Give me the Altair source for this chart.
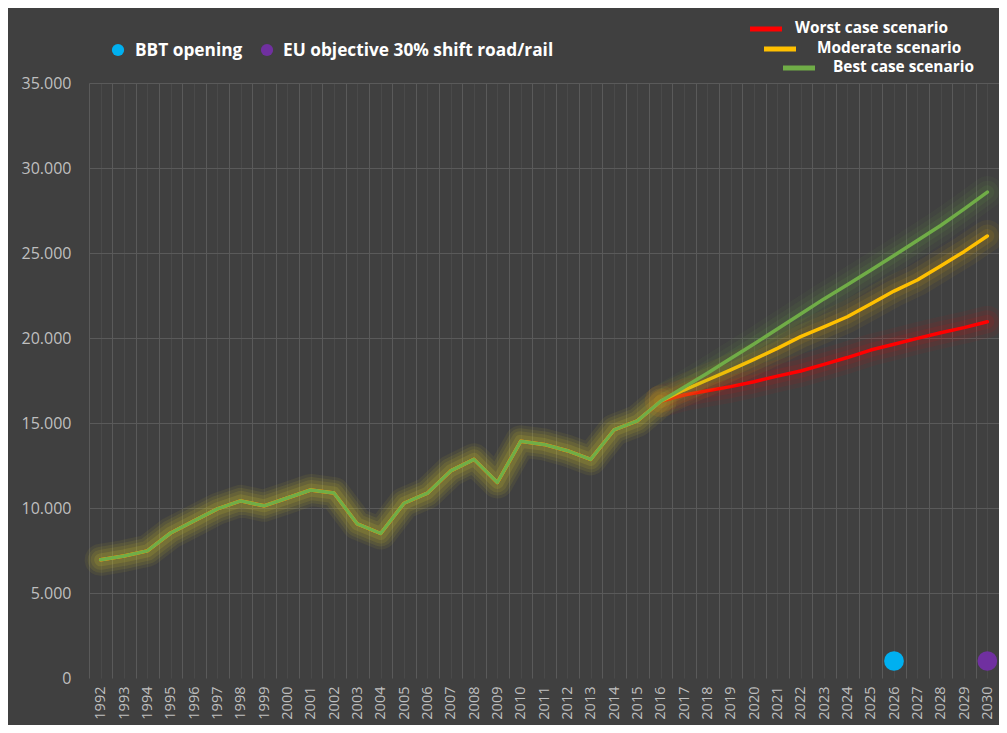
import altair as alt
import pandas as pd

# ---- data ----
hist_years = list(range(1992, 2017))
hist_values = [6950, 7180, 7480, 8530, 9240, 9950, 10420, 10130, 10590, 11060,
               10880, 9060, 8500, 10280, 10870, 12180, 12860, 11500, 13920, 13740,
               13370, 12860, 14590, 15120, 16280]

scen_years = list(range(2017, 2031))
worst_values = [16650, 16900, 17140, 17430, 17760, 18060, 18450, 18850, 19290,
                19630, 19980, 20310, 20610, 20960]
moderate_values = [16940, 17530, 18120, 18745, 19390, 20080, 20650, 21250, 22000,
                   22760, 23410, 24240, 25080, 26000]
best_values = [17100, 17930, 18790, 19650, 20530, 21410, 22300, 23130, 23990,
               24850, 25730, 26620, 27580, 28580]

series_names = ["Worst case scenario", "Moderate scenario", "Best case scenario"]
series_colors = ["#ff0000", "#ffc000", "#70ad47"]

marker_labels = ["BBT opening", "EU objective 30% shift road/rail"]
marker_years = [2026, 2030]
marker_values = [1000, 1000]
marker_colors = ["#00b0f0", "#7030a0"]

y_ticks = [0, 5000, 10000, 15000, 20000, 25000, 30000, 35000]

# ---- build tables ----
rows = []
for name, vals in zip(series_names, [worst_values, moderate_values, best_values]):
    for yr, v in zip(hist_years + scen_years, hist_values + vals):
        rows.append({"year": yr, "value": v, "series": name})
df = pd.DataFrame(rows)

markers = pd.DataFrame({"year": marker_years, "value": marker_values,
                        "label": marker_labels, "color": marker_colors})

x_grid = [1991.5 + 0.5 * i for i in range(79)]

FONT = "Open Sans"
LABEL_COLOR = "#bfbfbf"

x_enc = alt.X(
    "year:Q",
    scale=alt.Scale(domain=[1991.5, 2030.5], nice=False, zero=False),
    axis=alt.Axis(
        values=x_grid,
        tickCount=200,
        labelExpr="datum.value % 1 === 0 ? format(datum.value, 'd') : ''",
        labelAngle=270,
        labelColor=LABEL_COLOR,
        labelFont=FONT,
        labelFontSize=14.5,
        labelPadding=8,
        labelOverlap=False,
        labelBound=False,
        labelFlush=False,
        ticks=False,
        domain=False,
        grid=True,
        gridColor={"condition": {"test": "datum.value % 1 === 0", "value": "#4a4a4a"},
                   "value": "#5a5a5a"},
        gridWidth=1,
        title=None,
    ),
)
y_enc = alt.Y(
    "value:Q",
    scale=alt.Scale(domain=[0, 35000], nice=False),
    axis=alt.Axis(
        values=y_ticks,
        labelExpr="replace(format(datum.value, ','), ',', '.')",
        labelColor=LABEL_COLOR,
        labelFont=FONT,
        labelFontSize=16,
        labelPadding=18,
        ticks=False,
        domain=False,
        grid=True,
        gridColor={"condition": {"test": "datum.value === 0", "value": "transparent"},
                   "value": "#5a5a5a"},
        title=None,
    ),
)

base = alt.Chart(df)
layers = []

# glow of the common historical part
hist = base.transform_filter(
    (alt.datum.series == series_names[1]) & (alt.datum.year <= 2016))
hist_glow = [(32, 0.08), (26, 0.10), (20, 0.12), (13, 0.16)]
for i, (w, o) in enumerate(hist_glow):
    m = hist.mark_line(strokeWidth=w, opacity=o, color="#cfc12a",
                       strokeCap="round", strokeJoin="round")
    layers.append(m.encode(x=x_enc, y=y_enc) if i == 0 else
                  m.encode(x="year:Q", y="value:Q"))

scen_glow = [(32, 0.05), (23, 0.07), (14, 0.09)]
for name, col in zip(series_names, series_colors):
    sub = base.transform_filter(alt.datum.series == name)
    fut = sub.transform_filter(alt.datum.year >= 2016)
    for w, o in scen_glow:
        layers.append(fut.mark_line(strokeWidth=w, opacity=o, color=col,
                                    strokeCap="round", strokeJoin="round")
                      .encode(x="year:Q", y="value:Q"))
    layers.append(sub.mark_line(strokeWidth=3.5, color=col,
                                strokeCap="round", strokeJoin="round")
                  .encode(x="year:Q", y="value:Q"))

dots = alt.Chart(markers).mark_circle(size=390, opacity=1).encode(
    x="year:Q", y="value:Q", color=alt.Color("color:N", scale=None))
layers.append(dots)

# ---- legends (drawn manually) ----
one = pd.DataFrame({"k": [0]})
leg = []
# top-left marker legend
for lbl, col, cx, tx in zip(marker_labels, marker_colors, [29, 178], [46, 194]):
    leg.append(alt.Chart(one).mark_circle(size=150, opacity=1, color=col)
               .encode(x=alt.value(cx), y=alt.value(-33)))
    leg.append(alt.Chart(one).mark_text(text=lbl, align="left", baseline="middle",
                                        font=FONT, fontSize=17.3, fontWeight="bold",
                                        color="#ffffff")
               .encode(x=alt.value(tx), y=alt.value(-32)))
# top-right scenario legend (staggered)
for lbl, col, lx, ly, tx in zip(series_names, series_colors,
                                [661, 675, 694], [-54, -34, -15], [706, 728, 744]):
    leg.append(alt.Chart(one).mark_rule(strokeWidth=5, color=col)
               .encode(x=alt.value(lx), x2=alt.value(lx + 32), y=alt.value(ly)))
    leg.append(alt.Chart(one).mark_text(text=lbl, align="left", baseline="middle",
                                        font=FONT, fontSize=15.4, fontWeight="bold",
                                        color="#ffffff")
               .encode(x=alt.value(tx), y=alt.value(ly - 1)))

chart = alt.layer(*layers, *leg).properties(
    width=910,
    height=595,
    autosize=alt.AutoSizeParams(type="none"),
    padding={"left": 81, "top": 75, "right": 0, "bottom": 47},
    background="#404040",
).configure_view(stroke=None)

chart.save("out.html", embed_options={"renderer": "svg", "actions": False})
